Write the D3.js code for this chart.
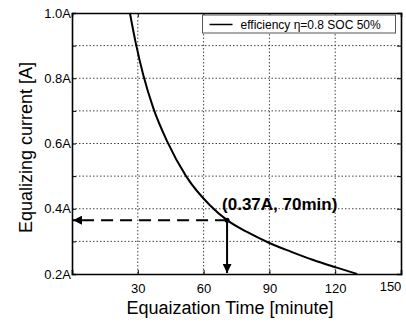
<!DOCTYPE html>
<html>
<head>
<meta charset="utf-8">
<script src="https://cdn.jsdelivr.net/npm/d3@7"></script>
<style>
body { margin: 0; background: #fff; }
svg { font-family: Arial, "Liberation Sans", sans-serif; }
</style>
</head>
<body>
<div id="chart"></div>
<script>
// curve: time [min] -> current [A]
const timeMin = [26.4, 29, 32.5, 37, 43.5, 52, 63, 70.7, 80, 90, 100, 110, 120, 130];
const currentA = [1.0, 0.91, 0.81, 0.71, 0.605, 0.5, 0.41, 0.365, 0.328, 0.295, 0.268, 0.243, 0.221, 0.2];
const xTicks = [30, 60, 90, 120, 150];
const yTicks = [0.2, 0.4, 0.6, 0.8, 1.0];
const yMinor = [0.3, 0.5, 0.7, 0.9];
const marker = {t: 70.7, i: 0.365, label: "(0.37A, 70min)"};
const legendLabel = "efficiency \u03B7=0.8 SOC 50%";

const W = 406, H = 322;
const margin = {top: 13, right: 5, bottom: 48, left: 72};
const width = W - margin.left - margin.right;
const height = H - margin.top - margin.bottom;

const svg = d3.select("#chart").append("svg")
    .attr("width", W).attr("height", H);

const defs = svg.append("defs");
defs.append("marker").attr("id", "arr")
    .attr("viewBox", "0 0 10 10").attr("refX", 10).attr("refY", 5)
    .attr("markerWidth", 12).attr("markerHeight", 9)
    .attr("markerUnits", "userSpaceOnUse")
    .attr("orient", "auto")
    .append("path").attr("d", "M0,0L10,5L0,10Z").attr("fill", "#000");

const g = svg.append("g").attr("transform", `translate(${margin.left},${margin.top})`);

const x = d3.scaleLinear().domain([0, 150]).range([0, width]);
const y = d3.scaleLinear().domain([0.2, 1.0]).range([height, 0]);

// grid
const grid = g.append("g").attr("stroke", "#444").attr("stroke-width", 1).attr("stroke-dasharray", "1.5,2");
grid.selectAll(".gx").data(xTicks.slice(0, -1)).join("line")
    .attr("x1", d => x(d)).attr("x2", d => x(d)).attr("y1", 0).attr("y2", height);
grid.selectAll(".gy").data(yTicks.slice(1, -1).concat(yMinor)).join("line")
    .attr("y1", d => y(d)).attr("y2", d => y(d)).attr("x1", 0).attr("x2", width);

// axes
const xAxis = g.append("g").attr("transform", `translate(0,${height})`)
    .call(d3.axisBottom(x).tickValues(xTicks).tickSize(-4).tickPadding(10).tickFormat(d3.format("d")));
const yAxis = g.append("g")
    .call(d3.axisLeft(y).tickValues(yTicks.concat(yMinor)).tickSize(-4).tickPadding(1)
        .tickFormat(d => yMinor.includes(d) ? "" : d3.format(".1f")(d) + "A"));
g.append("g").attr("transform", `translate(0,0)`)
    .call(d3.axisTop(x).tickValues(xTicks).tickSize(-4).tickFormat(""));
g.append("g").attr("transform", `translate(${width},0)`)
    .call(d3.axisRight(y).tickValues(yTicks.concat(yMinor)).tickSize(-4).tickFormat(""));
svg.selectAll(".domain").attr("stroke", "#000").attr("stroke-width", 1.6);
svg.selectAll(".tick line").attr("stroke", "#000");
svg.selectAll(".tick text").attr("font-size", 13).attr("fill", "#000").attr("font-family", "Arial, 'Liberation Sans', sans-serif");
xAxis.select(".tick:last-of-type text").attr("dy", "0.55em").attr("dx", -11);

// curve
const data = timeMin.map((t, k) => ({t, i: currentA[k]}));
g.append("path").datum(data)
    .attr("fill", "none").attr("stroke", "#000").attr("stroke-width", 2)
    .attr("d", d3.line().x(d => x(d.t)).y(d => y(d.i)).curve(d3.curveMonotoneX));

// annotation
const mx = x(marker.t), my = y(marker.i);
g.append("line").attr("x1", mx).attr("y1", my).attr("x2", 1).attr("y2", my)
    .attr("stroke", "#000").attr("stroke-width", 2).attr("stroke-dasharray", "12,7")
    .attr("marker-end", "url(#arr)");
g.append("line").attr("x1", mx).attr("y1", my).attr("x2", mx).attr("y2", height - 1)
    .attr("stroke", "#000").attr("stroke-width", 2).attr("marker-end", "url(#arr)");
g.append("circle").attr("cx", mx).attr("cy", my).attr("r", 2.5).attr("fill", "#000");
g.append("text").attr("x", mx - 5).attr("y", my - 10)
    .attr("font-size", 17).attr("font-weight", "bold").text(marker.label);

// legend
const lg = g.append("g").attr("transform", `translate(${x(59.5)},2)`);
lg.append("rect").attr("width", 193).attr("height", 18)
    .attr("fill", "#fff").attr("stroke", "#555").attr("stroke-width", 1);
lg.append("line").attr("x1", 7).attr("x2", 30).attr("y1", 9.5).attr("y2", 9.5)
    .attr("stroke", "#000").attr("stroke-width", 1.5);
lg.append("text").attr("x", 38).attr("y", 13.5).attr("font-size", 12).text(legendLabel);

// titles
svg.append("text").attr("x", 230).attr("y", 314)
    .attr("text-anchor", "middle").attr("font-size", 18).text("Equaization Time [minute]");
svg.append("text").attr("transform", `translate(32,${margin.top + height / 2 + 4}) rotate(-90)`)
    .attr("text-anchor", "middle").attr("font-size", 18).text("Equalizing current [A]");
</script>
</body>
</html>
